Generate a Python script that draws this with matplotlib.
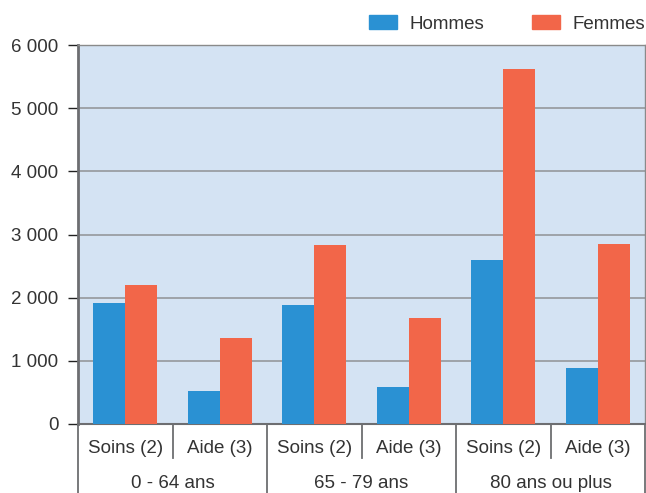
import numpy as np
import matplotlib.pyplot as plt
from matplotlib.ticker import FuncFormatter, MultipleLocator
from matplotlib.patches import Patch
import matplotlib.transforms as mtransforms

plt.rcParams['font.family'] = ['Liberation Sans', 'DejaVu Sans']
plt.rcParams['font.size'] = 13.5

# Data
groups = ['0 - 64 ans', '65 - 79 ans', '80 ans ou plus']
types = ['Soins (2)', 'Aide (3)']
hommes = [1915, 520, 1880, 585, 2595, 885]
femmes = [2200, 1360, 2830, 1680, 5620, 2850]

blue = '#2a91d3'
orange = '#f26649'
txt = '#333333'
dark = '#6d6e71'

fig = plt.figure(figsize=(6.46, 4.93), dpi=100)
ax = fig.add_axes([78 / 646, 69 / 493, 567 / 646, 379 / 493])
ax.set_facecolor('#d4e3f3')

x = np.arange(len(hommes))
w = 0.339
ax.bar(x - w / 2, hommes, w, color=blue, zorder=3)
ax.bar(x + w / 2, femmes, w, color=orange, zorder=3)

ax.set_xlim(-0.5, len(hommes) - 0.5)
ax.set_ylim(0, 6000)
ax.yaxis.set_major_locator(MultipleLocator(1000))
ax.yaxis.set_major_formatter(FuncFormatter(lambda v, p: f'{int(v):,}'.replace(',', ' ')))
ax.grid(axis='y', color='#9a9ea3', linewidth=1.3, zorder=1)
ax.tick_params(axis='y', length=7.5, width=1, color='#222222', pad=6.5, labelcolor=txt, labelsize=13.5)
ax.tick_params(axis='x', length=0, labelbottom=False)

for s in ['top', 'right']:
    ax.spines[s].set_color('#8a8a8a')
    ax.spines[s].set_linewidth(1)
ax.spines['left'].set_color(dark)
ax.spines['left'].set_linewidth(2)
ax.spines['bottom'].set_color(dark)
ax.spines['bottom'].set_linewidth(1.5)

# category labels and separators below the axis
trans = mtransforms.blended_transform_factory(ax.transData, ax.transAxes)
for i in x:
    ax.text(i, -0.064, types[i % 2], transform=trans, ha='center', va='center',
            color=txt, fontsize=13.5)
for i, g in enumerate(groups):
    ax.text(2 * i + 0.5, -0.157, g, transform=trans, ha='center', va='center',
            color=txt, fontsize=13.5)
for b in np.arange(-0.5, len(hommes), 1.0):
    if int(b + 0.5) % 2 == 0:
        ax.plot([b, b], [0, -0.185], transform=trans, color=dark, lw=1.3, clip_on=False)
    else:
        ax.plot([b, b], [0, -0.09], transform=trans, color=dark, lw=1.3, clip_on=False)

handles = [Patch(color=blue, label='Hommes'), Patch(color=orange, label='Femmes')]
leg = fig.legend(handles=handles, loc='upper right', bbox_to_anchor=(1.005, 0.977), ncol=2,
                 frameon=False, fontsize=13.5, handlelength=1.5, handleheight=0.78,
                 handletextpad=0.7, columnspacing=2.5, borderaxespad=0, borderpad=0.2)
for t in leg.get_texts():
    t.set_color(txt)

fig.savefig('out.png', dpi=100)
